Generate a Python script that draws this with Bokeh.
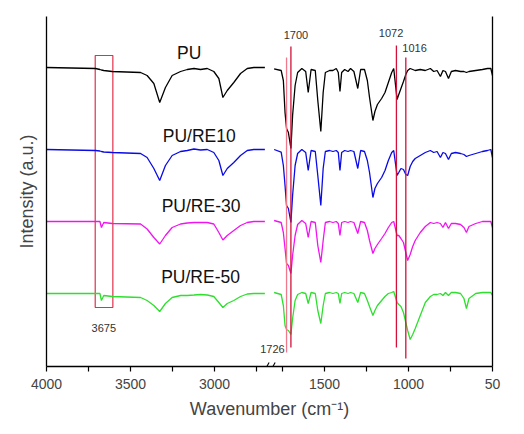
from bokeh.plotting import figure
from bokeh.models import Range1d, FixedTicker, LinearAxis, Label, Arrow
from bokeh.embed import file_html
from bokeh.resources import INLINE

# ---------------- data ----------------
# high-wavenumber segment (cm-1)
wn_left = [4000, 3708, 3682, 3673, 3659, 3609, 3440, 3401, 3361, 3326, 3292, 3252, 3202,
           3162, 3122, 3083, 3043, 3004, 2974, 2950, 2924, 2885, 2845, 2805, 2766, 2700]
pu_left = [299, 298, 297, 296.5, 296, 295, 294, 291, 283, 264, 279, 291, 295,
           297, 298, 297, 298, 295, 288, 269, 276, 284, 293, 298, 299, 299]
re10_left = [217, 216, 215.5, 215, 214.5, 214, 213, 209, 198, 186, 201, 211, 215,
             216, 217.5, 216.5, 217, 214, 206, 191, 198, 204, 211, 216, 217, 217]
re30_left = [145, 145, 145, 139, 144, 143, 142.5, 137.5, 129, 122.5, 131, 139, 142.5,
             143.5, 144, 144, 144, 142.5, 134, 126.5, 131, 136, 141, 144, 145, 145]
re50_left = [73, 73, 73, 66, 71, 70, 69, 66, 61, 55, 63, 69, 71,
             71, 71.5, 72, 71.5, 70, 64, 59, 63, 66, 70, 72.5, 73, 73]

# fingerprint segment (cm-1)
wn_right = [1800, 1758, 1745, 1735, 1726, 1715, 1700, 1690, 1675, 1660, 1635, 1612, 1597,
            1580, 1555, 1540, 1522, 1508, 1495, 1470, 1450, 1430, 1418, 1408, 1398, 1380,
            1360, 1345, 1325, 1302, 1285, 1262, 1245, 1232, 1212, 1200, 1185, 1160, 1140,
            1120, 1100, 1088, 1068, 1058, 1045, 1030, 1016, 1005, 990, 975, 960, 930, 900,
            870, 850, 830, 810, 795, 780, 762, 745, 720, 690, 670, 655, 640, 600, 560, 530,
            510, 500]
pu_right = [297.7, 296, 286, 254, 238, 234, 218, 251, 281, 294, 298, 295, 274,
            297, 296, 266, 235, 274, 294, 296, 296, 298, 294, 275, 294, 297,
            295, 298, 295, 278, 297, 297, 286, 269, 246, 255, 262, 268, 274,
            284, 294, 298, 267, 272, 278, 285, 292, 296, 298, 297, 296, 297, 296,
            298, 295, 296, 290, 296, 295, 288, 295, 296, 295, 295, 294, 295, 296, 297, 298,
            298, 291]
re10_right = [217, 214.3, 201, 181, 161, 158, 144, 171, 201, 213, 217, 214, 196,
              216, 215, 191, 161, 198, 215, 216, 215, 216, 214, 196, 214, 216,
              215, 216, 215, 198, 216, 215, 206, 194, 169, 178, 183, 189, 196,
              206, 214, 216, 191, 194, 198, 197, 192, 191, 200, 205, 208, 211, 214,
              216, 214, 215, 209, 214, 213, 207, 213, 214, 213, 212, 210, 211, 213, 215, 216,
              217, 209]
re30_right = [146, 144, 134, 118, 103, 101, 93, 111, 131, 142, 146, 143, 129,
              145, 144, 121, 104, 126, 144, 145, 144, 145, 143, 131, 144, 145,
              144, 145, 144, 133, 145, 144, 136, 126, 113, 118, 122, 128, 133,
              139, 144, 145, 131, 131, 128, 124, 114, 106, 112, 120, 126, 134, 140,
              144, 143, 144, 143, 139, 144, 138, 143, 143, 142, 139, 134, 140, 143, 145, 145,
              145, 139]
re50_right = [74, 72, 61, 41, 37, 36, 32, 48, 66, 72, 74, 73, 63,
              74, 73, 56, 43, 61, 73, 74, 73, 74, 73, 63, 73, 74,
              73, 74, 73, 64, 74, 73, 66, 60, 51, 56, 61, 66, 70,
              73, 74, 75, 64, 62, 60, 54, 44, 36, 27, 32, 38, 51, 64,
              70, 72, 72, 73, 71, 74, 71, 74, 74, 73, 68, 58, 68, 73, 74, 74,
              74, 71]

series_names = ["PU", "PU/RE10", "PU/RE-30", "PU/RE-50"]
series_left = [pu_left, re10_left, re30_left, re50_left]
series_right = [pu_right, re10_right, re30_right, re50_right]
series_colors = ["#000000", "#0a0ae6", "#f014f0", "#2edf2e"]

major_ticks_wn = [4000, 3500, 3000, 1500, 1000, 500]
major_tick_labels = ["4000", "3500", "3000", "1500", "1000", "50"]
minor_ticks_wn = [3750, 3250, 2750, 1750, 1250, 750]

marker_wn = [1726, 1700, 1072, 1016]
marker_labels = ["1726", "1700", "1072", "1016"]
box_wn = (3710, 3605)
box_label = "3675"

# ---------------- broken axis mapping ----------------
SHIFT = 845          # width of the removed 2700-1800 region (compressed)
SPLIT = 2000


def u(w):
    return w - SHIFT if w > SPLIT else w


FONT = "Liberation Sans"

p = figure(width=508, height=430, output_backend="svg", toolbar_location=None,
           x_range=Range1d(u(4000), 500), y_range=Range1d(0, 350),
           min_border_left=46, min_border_right=16, min_border_top=16,
           min_border_bottom=64)
p.outline_line_color = None
p.grid.visible = False
p.background_fill_color = "white"

# x axis
xa = p.xaxis[0]
xa.ticker = FixedTicker(ticks=[u(w) for w in major_ticks_wn],
                        minor_ticks=[u(w) for w in minor_ticks_wn])
xa.major_label_overrides = {u(w): t for w, t in zip(major_ticks_wn, major_tick_labels)}
xa.axis_label = "Wavenumber (cm\u207b\u00b9)"
xa.axis_label_text_font = FONT
xa.axis_label_text_font_style = "normal"
xa.axis_label_text_font_size = "18px"
xa.axis_label_standoff = 7
xa.major_label_text_font = FONT
xa.major_label_text_font_size = "14px"
xa.major_label_standoff = 7
xa.major_tick_in = 0
xa.major_tick_out = 5
xa.minor_tick_in = 0
xa.minor_tick_out = 5
xa.axis_line_width = 1.3
xa.major_tick_line_width = 1.2
xa.minor_tick_line_width = 1.2

# y axis
ya = p.yaxis[0]
ya.ticker = FixedTicker(ticks=[])
ya.axis_label = "Intensity (a.u.)"
ya.axis_label_text_font = FONT
ya.axis_label_text_font_style = "normal"
ya.axis_label_text_font_size = "18px"
ya.axis_label_standoff = 10
ya.major_tick_out = 0
ya.major_tick_in = 0
ya.minor_tick_out = 0
ya.major_label_standoff = 0
ya.axis_line_width = 1.3

ra = LinearAxis(ticker=FixedTicker(ticks=[]), major_tick_out=0, major_tick_in=0,
                minor_tick_out=0, major_label_standoff=0, axis_line_width=1.3)
p.add_layout(ra, "right")

# box around 3675 band (drawn first so spectra stay visible)
p.quad(left=[u(box_wn[0])], right=[u(box_wn[1])], bottom=[59], top=[311],
       fill_color=None, line_color="#e0304a", line_width=1.2)

# spectra
for ys_l, ys_r, col in zip(series_left, series_right, series_colors):
    p.line([u(w) for w in wn_left], ys_l, line_color=col, line_width=1.3)
    p.line([u(w) for w in wn_right], ys_r, line_color=col, line_width=1.3)

# series labels
label_pos = [(2306, 314), (2246, 231), (2235, 161), (2238, 90)]
for name, (lx, ly) in zip(series_names, label_pos):
    p.add_layout(Label(x=lx, y=ly, text=name, text_align="center", text_baseline="middle",
                       text_font=FONT, text_font_size="17.5px", text_color="#111111"))

# marker lines
line_spans = [(14, 309), (19, 320), (19, 321), (8, 309)]
line_cols = ["#f07a8c", "#d3103a", "#d3103a", "#d3103a"]
for w, (y0, y1), c in zip(marker_wn, line_spans, line_cols):
    p.segment(x0=[u(w)], y0=[y0], x1=[u(w)], y1=[y1], line_color=c, line_width=1.3)

marker_label_pos = [(1810, 18), (1670, 332), (1104, 334), (964, 319)]
for t, (lx, ly) in zip(marker_labels, marker_label_pos):
    p.add_layout(Label(x=lx, y=ly, text=t, text_align="center", text_baseline="middle",
                       text_font=FONT, text_font_size="11px", text_color="#333333"))

p.add_layout(Label(x=2814, y=39, text=box_label, text_align="center", text_baseline="middle",
                   text_font=FONT, text_font_size="11px", text_color="#333333"))

# axis break mark "//"
for xs, xe in [(1866, 1830), (1830, 1794)]:
    p.add_layout(Arrow(end=None, x_start=xs, y_start=-7, x_end=xe, y_end=4,
                       line_color="#000000", line_width=1.1))

open("out.html", "w").write(file_html(p, INLINE))
